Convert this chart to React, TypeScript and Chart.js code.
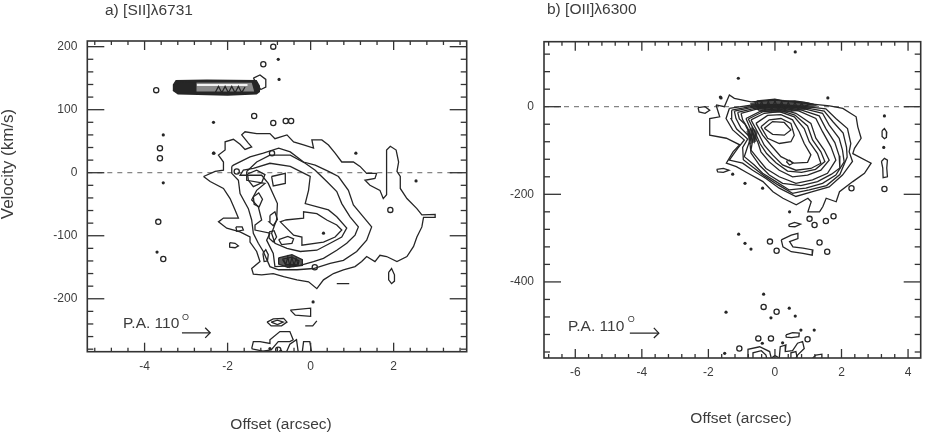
import React, { useEffect, useRef } from "react";
import { Chart, registerables } from "chart.js";
Chart.register(...registerables);

type P = [number, number];

// ---------- Panel a) [SII] 6731 ----------
const aXMajor = [-4, -2, 0, 2];
const aXMinor = [-5.2, -4.8, -4.4, -4, -3.6, -3.2, -2.8, -2.4, -2, -1.6, -1.2, -0.8, -0.4, 0, 0.4, 0.8, 1.2, 1.6, 2, 2.4, 2.8, 3.2, 3.6];
const aYMajor = [200, 100, 0, -100, -200];
const aYMinor = [200, 180, 160, 140, 120, 100, 80, 60, 40, 20, 0, -20, -40, -60, -80, -100, -120, -140, -160, -180, -200, -220, -240, -260, -280];

const aOuter: P[] = [[-2.58,-6],[-2.3,2],[-2.1,4],[-2.1,17],[-2.22,28],[-2.06,36],[-2.06,49],[-1.86,53],[-1.7,45],[-1.58,37],[-1.42,41],[-1.5,47],[-1.66,60],[-1.58,65],[-1.3,62],[-0.98,62],[-0.86,54],[-0.57,60],[-0.41,49],[-0.17,44],[0.07,39],[0.03,52],[0.27,52],[0.43,44],[0.59,31],[0.75,17],[1.03,17],[1.19,10],[1.35,-1],[1.59,-1],[1.55,-9],[1.31,-12],[1.43,-20],[1.67,-28],[1.75,-41],[1.83,-35],[1.83,4],[1.83,36],[1.92,42],[2.06,36],[2.12,17],[2.08,2],[2.16,-6],[2.16,-25],[2.32,-41],[2.56,-57],[2.68,-67],[3,-66],[3,-71],[2.72,-71],[2.68,-86],[2.56,-102],[2.48,-117],[2.32,-133],[2.08,-141],[1.83,-133],[1.67,-131],[1.55,-141],[1.35,-133],[1.23,-141],[1.07,-149],[0.79,-154],[0.55,-160],[0.31,-170],[0.15,-184],[-0.05,-173],[-0.33,-170],[-0.65,-165],[-0.9,-160],[-1.18,-162],[-1.38,-161],[-1.42,-152],[-1.22,-141],[-1.3,-125],[-1.46,-110],[-1.46,-102],[-1.7,-94],[-2.02,-88],[-2.22,-78],[-2.1,-72],[-1.74,-72],[-1.82,-59],[-1.94,-41],[-2.1,-25],[-2.42,-14]];
const aSecond: P[] = [[-1.9,10],[-1.9,-1],[-1.74,-12],[-1.7,-33],[-1.5,-57],[-1.42,-75],[-1.38,-96],[-1.26,-112],[-1.14,-125],[-0.98,-149],[-0.77,-154],[-0.33,-154],[0.07,-152],[0.47,-144],[0.79,-139],[1.11,-125],[1.35,-107],[1.47,-86],[1.27,-70],[1.03,-51],[0.91,-28],[0.67,-6],[0.43,2],[0.11,12],[-0.17,17],[-0.49,33],[-0.77,39],[-1.14,31],[-1.46,25],[-1.86,12]];
const aThird: P[] = [[-1.54,2],[-1.3,17],[-0.98,28],[-0.49,28],[-0.13,15],[0.11,4],[0.39,-14],[0.63,-30],[0.75,-49],[0.95,-70],[1.15,-86],[1.07,-99],[0.87,-112],[0.63,-123],[0.31,-136],[0.07,-141],[-0.25,-147],[-0.86,-149],[-0.9,-128],[-1.06,-107],[-0.98,-96],[-1.34,-91],[-1.34,-83],[-1.18,-75],[-1.26,-54],[-1.42,-43],[-1.3,-28],[-1.1,-17],[-1.54,-12]];
const aFourth: P[] = [[-1.38,7],[-0.98,15],[-0.49,10],[-0.01,-6],[-0.05,-28],[-0.13,-49],[0.43,-59],[0.63,-70],[0.87,-88],[0.75,-102],[0.47,-112],[0.15,-123],[-0.25,-125],[-0.57,-120],[-0.86,-112],[-0.94,-96],[-0.82,-75],[-0.8,-49],[-1.02,-17],[-1.18,-4],[-1.7,-4],[-1.62,4]];
const aFifth: P[] = [[-0.61,-75],[-0.17,-72],[-0.17,-62],[0.15,-65],[0.39,-75],[0.63,-83],[0.75,-91],[0.59,-102],[0.31,-110],[-0.21,-115],[-0.21,-102],[-0.41,-99],[-0.73,-78]];
const aUpperCore: P[] = [[-0.94,-6],[-0.61,-1],[-0.61,-17],[-0.9,-21]];
const aCoreA: P[] = [[-1.52,-2],[-1.3,4],[-1.1,-3],[-1.18,-16],[-1.38,-22],[-1.5,-12]];
const aCoreB: P[] = [[-1.38,-38],[-1.25,-32],[-1.16,-42],[-1.24,-54],[-1.36,-50]];
const aCoreC: P[] = [[-0.98,-68],[-0.86,-62],[-0.8,-74],[-0.9,-84],[-1,-78]];
const aCoreD: P[] = [[-1,-94],[-0.88,-92],[-0.82,-102],[-0.9,-110],[-1,-104]];
const aEll1: P[] = [[-0.77,-106],[-0.55,-101],[-0.41,-105],[-0.45,-112],[-0.7,-114]];
const aEll2: P[] = [[-1.15,-128],[-1.08,-122],[-1.02,-130],[-1.04,-140],[-1.12,-141]];
const aEll3: P[] = [[1.88,-158],[1.95,-152],[2.02,-162],[2.02,-172],[1.95,-176],[1.88,-170]];
const aEll4: P[] = [[-1.95,-111],[-1.82,-112],[-1.74,-116],[-1.82,-119],[-1.95,-118]];
const aEll5: P[] = [[-1.8,-86],[-1.65,-86],[-1.62,-91],[-1.78,-93]];
const aKnot1: P[] = [[-0.77,-135],[-0.45,-130],[-0.2,-138],[-0.2,-147],[-0.55,-150],[-0.77,-145]];
const aKnot2: P[] = [[-0.68,-137],[-0.45,-134],[-0.28,-140],[-0.3,-145],[-0.6,-146]];
const aKnotZig: P[] = [[-0.65,-138],[-0.6,-146],[-0.55,-134],[-0.5,-148],[-0.45,-134],[-0.4,-147],[-0.35,-136],[-0.3,-146]];
const aBand1: P[] = [[-3.32,140],[-3.25,147],[-2.5,148],[-1.3,147],[-1.22,138],[-1.22,128],[-1.3,124],[-2,122],[-3.2,124],[-3.33,130]];
const aBand2: P[] = [[-3.25,139],[-3.15,144],[-2.5,145],[-1.35,144],[-1.28,134],[-1.35,127],[-2,125],[-3.15,127],[-3.27,131]];
const aBandCore: P[] = [[-2.75,129],[-2.75,143],[-1.42,143],[-1.36,129]];
const aBandShine: P[] = [[-2.74,139],[-1.52,139]];
const aBandZig2: P[] = [[-2.3,127],[-2.22,137],[-2.14,127],[-2.06,137],[-1.98,127],[-1.9,137],[-1.82,127],[-1.74,137],[-1.66,127],[-1.58,136]];
const aBandCirc: P[] = [[-1.38,150],[-1.22,155],[-1.08,148],[-1.08,136],[-1.2,132]];
const aTriangle: P[] = [[-0.49,-218],[0,-215],[0,-228],[-0.37,-226]];
const aBottomEll: P[] = [[-1.05,-237],[-0.9,-232],[-0.65,-231],[-0.57,-237],[-0.7,-243],[-0.95,-243]];
const aBottomEll2: P[] = [[-0.95,-237],[-0.8,-234],[-0.66,-237],[-0.8,-241]];
const aBottom1: P[] = [[-1.42,-279],[-1.38,-268],[-1.22,-268],[-0.98,-271],[-0.98,-265],[-0.74,-252],[-0.5,-252],[-0.42,-265],[-0.5,-268],[-0.78,-268],[-0.95,-281],[-1.15,-283],[-1.38,-280]];
const aBottom2: P[] = [[-0.58,-284],[-0.5,-272],[-0.34,-265],[-0.3,-284]];
const aBottom3: P[] = [[-0.2,-284],[-0.17,-268],[-0.02,-268],[0.02,-284]];
const aWiggle: P[] = [[-0.13,-243],[0.05,-243],[0.15,-235]];
const aDash: P[] = [[0.63,-176],[0.93,-176]];
const aDots: P[] = [[-2.34,80],[-0.78,180],[-0.76,148],[-3.55,60],[-2.33,31],[-3.55,-16],[-3.7,-126],[1.09,31],[-2.34,31],[2.54,-13],[0.31,-96],[0.06,-205],[-0.98,-279],[-0.72,-283]];
const aRings: P[] = [[-3.72,131],[-1.36,90],[-0.9,79],[-0.9,200],[-1.14,172],[-3.63,39],[-3.63,23],[-3.67,-78],[-3.55,-137],[-0.93,31],[-0.47,82],[-0.6,82],[1.92,-59],[-1.78,2],[0.1,-150],[-0.78,-281]];
const aArrow: P[] = [[-3.1,-254],[-2.42,-254]];
const aArrowHead: P[] = [[-2.54,-246],[-2.42,-254],[-2.54,-262]];
const aZero: P[] = [[-5.38,0],[3.76,0]];

// ---------- Panel b) [OI] 6300 ----------
const bXMajor = [-6, -4, -2, 0, 2, 4];
const bXMinor = [-6.8, -6.4, -6, -5.6, -5.2, -4.8, -4.4, -4, -3.6, -3.2, -2.8, -2.4, -2, -1.6, -1.2, -0.8, -0.4, 0, 0.4, 0.8, 1.2, 1.6, 2, 2.4, 2.8, 3.2, 3.6, 4];
const bYMajor = [0, -200, -400];
const bYMinor = [120, 80, 40, 0, -40, -80, -120, -160, -200, -240, -280, -320, -360, -400, -440, -480, -520, -560];

const bR1: P[] = [[-1.77,4],[-1.52,0],[-1.37,27],[-1.22,19],[-0.72,11],[0.04,15],[0.84,8],[1.64,2],[2.04,-4],[2.44,-23],[2.49,-46],[2.59,-72],[2.39,-95],[2.34,-107],[2.89,-129],[2.69,-152],[2.34,-171],[1.94,-194],[1.84,-217],[1.54,-209],[1.44,-228],[1.34,-240],[0.99,-240],[1.09,-217],[0.99,-209],[0.64,-224],[0.24,-209],[-0.06,-194],[-0.36,-171],[-0.81,-152],[-1.16,-137],[-1.46,-129],[-1.26,-103],[-1.06,-87],[-1.46,-72],[-1.96,-65],[-1.96,-27],[-1.66,-23]];
const bR2: P[] = [[-1.37,-4],[-0.67,4],[0.13,5],[0.93,0],[1.53,-5],[1.83,-27],[2.18,-50],[2.28,-84],[2.23,-103],[2.33,-125],[2.03,-156],[1.63,-183],[1.13,-194],[0.63,-205],[0.13,-186],[-0.27,-164],[-0.67,-145],[-0.97,-129],[-1.37,-122],[-1.12,-95],[-0.92,-76],[-1.27,-53],[-1.47,-27]];
const bR2b: P[] = [[-1.3,-8],[-0.62,2],[0.13,3],[0.88,-2],[1.48,-10],[1.75,-35],[2.05,-60],[2.15,-92],[2.17,-115],[1.95,-155],[1.55,-180],[1.03,-190],[0.53,-198],[0.08,-178],[-0.32,-158],[-0.65,-139],[-0.95,-121],[-0.97,-93],[-0.82,-74],[-1.15,-51],[-1.32,-27]];
const bR3: P[] = [[-1.22,-10],[-0.57,0],[0.13,2],[0.83,-4],[1.43,-15],[1.63,-42],[1.93,-72],[2.03,-99],[2.08,-126],[1.83,-156],[1.43,-175],[0.93,-186],[0.43,-190],[0.03,-171],[-0.37,-152],[-0.62,-133],[-0.92,-114],[-0.82,-91],[-0.72,-72],[-1.02,-49],[-1.17,-27]];
const bR3b: P[] = [[-1.12,-13],[-0.52,-2],[0.13,0],[0.78,-7],[1.33,-21],[1.53,-50],[1.8,-82],[1.93,-112],[1.95,-140],[1.7,-154],[1.28,-171],[0.78,-180],[0.23,-175],[-0.17,-156],[-0.45,-135],[-0.72,-106],[-0.75,-84],[-0.77,-60],[-0.9,-40],[-1.07,-28]];
const bR4: P[] = [[-1.02,-15],[-0.47,-4],[0.13,-2],[0.73,-10],[1.23,-27],[1.43,-57],[1.68,-91],[1.83,-122],[1.58,-152],[1.13,-167],[0.63,-175],[0.13,-160],[-0.27,-141],[-0.52,-118],[-0.72,-99],[-0.67,-76],[-0.82,-49],[-0.97,-30]];
const bR5: P[] = [[-0.87,-27],[-0.37,-8],[0.13,-5],[0.63,-15],[1.08,-38],[1.23,-72],[1.48,-99],[1.63,-122],[1.38,-145],[0.98,-156],[0.53,-160],[0.13,-145],[-0.17,-126],[-0.42,-103],[-0.52,-80],[-0.72,-53]];
const bR5b: P[] = [[-0.8,-28],[-0.35,-11],[0.13,-8],[0.6,-19],[0.98,-44],[1.13,-76],[1.38,-103],[1.5,-125],[1.22,-143],[0.8,-150],[0.38,-147],[0.03,-128],[-0.25,-107],[-0.45,-84],[-0.6,-58]];
const bR6: P[] = [[-0.72,-30],[-0.32,-15],[0.13,-11],[0.58,-23],[0.88,-50],[1.03,-80],[1.28,-107],[1.38,-129],[1.08,-141],[0.63,-145],[0.23,-133],[-0.07,-110],[-0.32,-88],[-0.47,-65]];
const bR7: P[] = [[-0.57,-38],[-0.22,-20],[0.18,-18],[0.53,-30],[0.73,-57],[0.88,-84],[1.08,-110],[0.98,-127],[0.58,-129],[0.18,-114],[-0.12,-88],[-0.37,-65]];
const bR8: P[] = [[-0.42,-46],[-0.17,-30],[0.18,-27],[0.48,-38],[0.58,-65],[0.48,-80],[0.13,-84],[-0.22,-72]];
const bR9: P[] = [[-0.32,-49],[-0.07,-34],[0.28,-36],[0.48,-53],[0.28,-65],[-0.07,-63]];
const bR10: P[] = [[0.34,-125],[0.44,-122],[0.54,-129],[0.44,-133]];
const bTopFill: P[] = [[-0.75,8],[-0.4,14],[0,17],[0.5,14],[1,10],[1.3,4],[1,-6],[0.5,-12],[0,-14],[-0.4,-12],[-0.7,-2]];
const bTop1: P[] = [[-0.55,13],[-0.3,15],[0,17],[0.3,12],[0.6,13],[0.9,10],[1.1,6],[0.9,2],[0.6,0],[0.2,-2],[-0.2,-1],[-0.5,4]];
const bTopZig: P[] = [[-0.6,10],[-0.5,-6],[-0.4,12],[-0.3,-8],[-0.2,12],[-0.1,-8],[0,14],[0.1,-8],[0.2,12],[0.3,-10],[0.4,10],[0.5,-8],[0.6,10],[0.7,-6],[0.8,8],[0.9,-5],[1,6]];
const bKnot: P[] = [[-0.86,-56],[-0.68,-46],[-0.52,-58],[-0.56,-80],[-0.75,-86]];
const bKnotZig: P[] = [[-0.8,-60],[-0.72,-75],[-0.68,-55],[-0.62,-78],[-0.58,-60]];
const bLeftIsle: P[] = [[-2.31,-2],[-2.1,0],[-1.96,-8],[-2.1,-15],[-2.28,-12]];
const bE1: P[] = [[3.22,-55],[3.29,-50],[3.36,-58],[3.35,-70],[3.29,-73],[3.22,-68]];
const bE2: P[] = [[3.2,-125],[3.29,-118],[3.38,-122],[3.36,-140],[3.38,-160],[3.25,-162],[3.24,-140]];
const bE3: P[] = [[-1.75,-143],[-1.55,-141],[-1.38,-145],[-1.55,-150],[-1.72,-149]];
const bE4: P[] = [[0.41,-269],[0.59,-264],[0.77,-268],[0.6,-274],[0.43,-273]];
const bLower: P[] = [[0.19,-304],[0.49,-293],[0.69,-289],[0.69,-301],[0.44,-308],[0.54,-320],[0.84,-323],[1.14,-327],[1.12,-339],[0.84,-335],[0.49,-331],[0.24,-320]];
const bE5: P[] = [[0.33,-521],[0.53,-516],[0.73,-517],[0.72,-525],[0.5,-527],[0.34,-526]];
const bNest1: P[] = [[-0.81,-574],[-0.81,-554],[-0.46,-548],[-0.16,-559],[-0.11,-574]];
const bNest2: P[] = [[-0.66,-574],[-0.66,-562],[-0.41,-557],[-0.27,-567],[-0.25,-574]];
const bNest3: P[] = [[0.13,-574],[0.16,-548],[0.33,-544],[0.31,-559],[0.53,-557],[0.68,-540],[0.83,-536],[0.88,-552],[0.68,-567],[0.63,-574]];
const bNest4: P[] = [[0.48,-574],[0.48,-562],[0.63,-559],[0.67,-574]];
const bNest5: P[] = [[1.13,-574],[1.23,-567],[1.41,-565],[1.41,-574]];
const bNest6: P[] = [[-0.1,-574],[0,-568],[0.13,-574]];
const bDots: P[] = [[-1.62,20],[1.59,20],[3.29,-21],[3.27,-93],[-1.27,-154],[-0.9,-175],[-0.37,-186],[0.44,-240],[-1.09,-291],[-0.9,-312],[-0.72,-325],[-1.1,65],[0.61,125],[-1.64,22],[-0.34,-428],[-0.12,-482],[0.43,-460],[0.61,-478],[-1.47,-469],[0.78,-510],[1.18,-510],[-0.38,-540],[-1.51,-563],[0.23,-539]];
const bRings: P[] = [[3.29,-188],[2.3,-186],[1.04,-256],[1.19,-270],[1.53,-261],[1.76,-250],[-0.15,-308],[0.05,-329],[1.34,-310],[1.57,-331],[-0.34,-457],[0.05,-468],[-0.12,-529],[-0.5,-529],[0.98,-531],[-1.07,-552]];
const bArrow: P[] = [[-4.36,-517],[-3.49,-517]];
const bArrowHead: P[] = [[-3.64,-505],[-3.49,-517],[-3.64,-528]];
const bZero: P[] = [[-6.94,0],[4.38,0]];

const aClosed = [aOuter,aSecond,aThird,aFourth,aFifth,aUpperCore,aCoreA,aCoreB,aCoreC,aCoreD,aEll1,aEll2,aEll3,aEll4,aEll5,aKnot1,aKnot2,aBand2,aBandCirc,aTriangle,aBottomEll,aBottomEll2,aBottom1];
const aOpen = [aKnotZig,aBandZig2,aBottom2,aBottom3,aWiggle,aDash,aArrow,aArrowHead];
const bClosed = [bR1,bR2,bR2b,bR3,bR3b,bR4,bR5,bR5b,bR6,bR7,bR8,bR9,bR10,bTop1,bLeftIsle,bE1,bE2,bE3,bE4,bLower,bE5];
const bOpen = [bTopZig,bKnotZig,bNest1,bNest2,bNest3,bNest4,bNest5,bNest6,bArrow,bArrowHead];

const INK = "#262626";
const TEXT = "#3c3c3c";
const FONT = "'Liberation Sans', Arial, sans-serif";

const toXY = (r: P[]) => r.map(([x, y]) => ({ x, y }));
const closeRing = (r: P[]) => [...r, r[0]];

interface Patch { ring: P[]; color: string; }
const aPatches: Patch[] = [
  { ring: aBand1, color: "#262626" },
  { ring: aBandCore, color: "#8a8a8a" },
  { ring: aKnot1, color: "#5a5a5a" },
];
const bPatches: Patch[] = [
  { ring: bTopFill, color: "#4a4a4a" },
  { ring: bKnot, color: "#5a5a5a" },
];

// Chart.js paints the first dataset last, so the bottom-up list is reversed.
function datasets(patches: Patch[], closed: P[][], open: P[][], dots: P[], rings: P[], zero: P[], shine?: P[]) {
  const line = (r: P[]) => ({ data: toXY(r), showLine: true, pointRadius: 0, borderColor: INK, borderWidth: 1.3, tension: 0, fill: false });
  return [
    { data: toXY(zero), showLine: true, pointRadius: 0, borderColor: "#666", borderWidth: 1, borderDash: [5, 5], fill: false },
    ...patches.map((p) => ({ data: toXY(closeRing(p.ring)), showLine: true, pointRadius: 0, borderWidth: 0, fill: "shape", backgroundColor: p.color })),
    ...(shine ? [{ data: toXY(shine), showLine: true, pointRadius: 0, borderColor: "#f2f2f2", borderWidth: 2, fill: false }] : []),
    ...closed.map((r) => line(closeRing(r))),
    ...open.map(line),
    { data: toXY(dots), showLine: false, pointRadius: 1.6, backgroundColor: INK, borderWidth: 0 },
    { data: toXY(rings), showLine: false, pointRadius: 2.6, backgroundColor: "rgba(0,0,0,0)", borderColor: INK, borderWidth: 1.3 },
  ].reverse();
}

interface Panel {
  canvasLeft: number; canvasWidth: number;
  pad: { left: number; right: number; top: number };
  yWidth: number; xHeight: number;
  xMin: number; xMax: number; yMin: number; yMax: number;
  xMajor: number[]; xMinor: number[]; yMajor: number[]; yMinor: number[];
  tickPadX: number;
  xTitleAt: [number, number];
  yTitleAt?: [number, number];
  title: string; titleAt: [number, number];
  note: { x: number; y: number; sx: number; sy: number };
  patches: Patch[]; shine?: P[];
  closed: P[][]; open: P[][]; dots: P[]; rings: P[]; zero: P[];
}

const panels: Panel[] = [
  {
    canvasLeft: 0, canvasWidth: 500, pad: { left: 0, right: 33.3, top: 41 }, yWidth: 87.3, xHeight: 84.3,
    xMin: -5.38, xMax: 3.76, yMin: -284, yMax: 209,
    xMajor: aXMajor, xMinor: aXMinor, yMajor: aYMajor, yMinor: aYMinor,
    tickPadX: 8, xTitleAt: [281, 425], yTitleAt: [8, 164],
    title: "a) [SII]\u03BB6731", titleAt: [105, 11],
    note: { x: -4.52, y: -240, sx: -3.05, sy: -229 },
    patches: aPatches, shine: aBandShine,
    closed: aClosed, open: aOpen, dots: aDots, rings: aRings, zero: aZero,
  },
  {
    canvasLeft: 500, canvasWidth: 426, pad: { left: 0, right: 4.3, top: 41.7 }, yWidth: 44, xHeight: 78,
    xMin: -6.94, xMax: 4.38, yMin: -573.7, yMax: 148.4,
    xMajor: bXMajor, xMinor: bXMinor, yMajor: bYMajor, yMinor: bYMinor,
    tickPadX: 7, xTitleAt: [241, 419],
    title: "b) [OII]\u03BB6300", titleAt: [47, 10],
    note: { x: -6.22, y: -503, sx: -4.36, sy: -485 },
    patches: bPatches,
    closed: bClosed, open: bOpen, dots: bDots, rings: bRings, zero: bZero,
  },
];

function frameAndText(p: Panel) {
  return {
    id: "frameAndText",
    afterDatasetsDraw(chart: any) {
      const { ctx, chartArea: a, scales } = chart;
      const sx = scales.x, sy = scales.y;
      ctx.save();
      ctx.strokeStyle = "#333";
      ctx.lineWidth = 1.6;
      ctx.strokeRect(a.left, a.top, a.right - a.left, a.bottom - a.top);
      ctx.lineWidth = 1.3;
      const seg = (x1: number, y1: number, x2: number, y2: number) => {
        ctx.beginPath(); ctx.moveTo(x1, y1); ctx.lineTo(x2, y2); ctx.stroke();
      };
      for (const v of p.xMinor) {
        const x = sx.getPixelForValue(v);
        const len = p.xMajor.includes(v) ? 9 : 4;
        seg(x, a.top, x, a.top + len);
        seg(x, a.bottom, x, a.bottom - len);
      }
      for (const v of p.yMinor) {
        const y = sy.getPixelForValue(v);
        const len = p.yMajor.includes(v) ? 17 : 6;
        seg(a.left, y, a.left + len, y);
        seg(a.right, y, a.right - len, y);
      }
      ctx.fillStyle = TEXT;
      ctx.textBaseline = "middle";
      ctx.textAlign = "left";
      ctx.font = `15.5px ${FONT}`;
      ctx.fillText(p.title, p.titleAt[0], p.titleAt[1]);
      ctx.fillText("P.A. 110", sx.getPixelForValue(p.note.x), sy.getPixelForValue(p.note.y));
      ctx.textAlign = "center";
      ctx.fillText("Offset (arcsec)", p.xTitleAt[0], p.xTitleAt[1]);
      if (p.yTitleAt) {
        ctx.save();
        ctx.translate(p.yTitleAt[0], p.yTitleAt[1]);
        ctx.rotate(-Math.PI / 2);
        ctx.font = `17px ${FONT}`;
        ctx.fillText("Velocity (km/s)", 0, 0);
        ctx.restore();
      }
      ctx.textAlign = "left";
      ctx.font = `9px ${FONT}`;
      ctx.fillText("O", sx.getPixelForValue(p.note.sx) - 2, sy.getPixelForValue(p.note.sy));
      ctx.restore();
    },
  };
}

function PanelChart({ p }: { p: Panel }) {
  const ref = useRef<HTMLCanvasElement | null>(null);
  useEffect(() => {
    const font = { family: FONT, size: 12 };
    const chart = new Chart(ref.current as HTMLCanvasElement, {
      type: "scatter",
      data: { datasets: datasets(p.patches, p.closed, p.open, p.dots, p.rings, p.zero, p.shine) as any },
      options: {
        responsive: false,
        animation: false,
        layout: { padding: { left: p.pad.left, right: p.pad.right, top: p.pad.top, bottom: 0 } },
        plugins: { legend: { display: false }, tooltip: { enabled: false } },
        scales: {
          x: {
            type: "linear", min: p.xMin, max: p.xMax,
            grid: { display: false, drawTicks: false }, border: { display: false },
            afterBuildTicks: (s: any) => { s.ticks = p.xMajor.map((value) => ({ value })); },
            afterFit: (s: any) => { s.height = p.xHeight; },
            ticks: { color: TEXT, font, padding: p.tickPadX, maxRotation: 0, autoSkip: false },
          },
          y: {
            type: "linear", min: p.yMin, max: p.yMax,
            grid: { display: false, drawTicks: false }, border: { display: false },
            afterBuildTicks: (s: any) => { s.ticks = p.yMajor.map((value) => ({ value })); },
            afterFit: (s: any) => { s.width = p.yWidth; },
            ticks: { color: TEXT, font, padding: 10, autoSkip: false },
          },
        },
      },
      plugins: [frameAndText(p)],
    } as any);
    return () => chart.destroy();
  }, [p]);
  return (
    <canvas
      ref={ref}
      width={p.canvasWidth}
      height={436}
      style={{ position: "absolute", left: p.canvasLeft, top: 0, width: p.canvasWidth, height: 436, filter: "blur(0.5px)" }}
    />
  );
}

export default function App() {
  return (
    <div style={{ position: "absolute", left: 0, top: 0, width: 926, height: 436, background: "#fff", overflow: "hidden" }}>
      {panels.map((p) => <PanelChart key={p.title} p={p} />)}
    </div>
  );
}
